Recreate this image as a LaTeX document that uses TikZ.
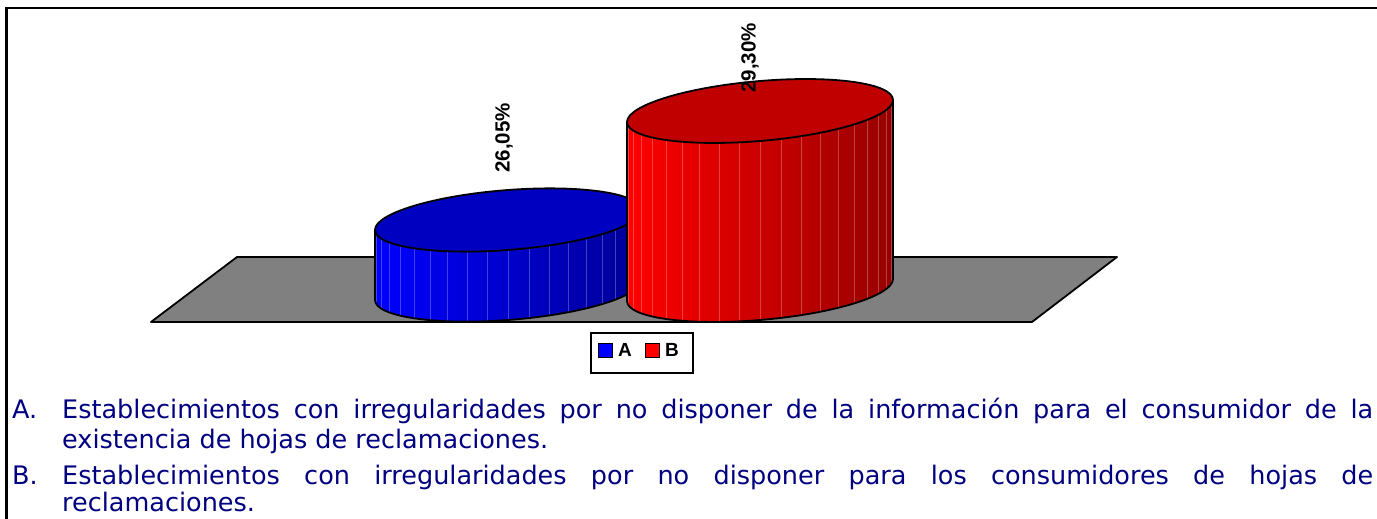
\documentclass[tikz,border=0pt]{standalone}
\usepackage{fontspec}
\newfontfamily\txtfont{DejaVu Sans}
\newfontfamily\lblfont{Liberation Sans}
\definecolor{navytxt}{RGB}{0,0,128}
\definecolor{blueL}{RGB}{0,0,255}
\definecolor{blueR}{RGB}{0,0,150}
\definecolor{blueTop}{RGB}{0,0,192}
\definecolor{redL}{RGB}{255,0,0}
\definecolor{redR}{RGB}{150,0,0}
\definecolor{redTop}{RGB}{192,0,0}
\definecolor{floorgray}{RGB}{128,128,128}
\tikzset{
  outline/.style={draw=black, line width=1.8pt, line join=round},
  facet/.style={draw=white, opacity=0.25, line width=0.5pt},
  pct/.style={font=\lblfont\bfseries\fontsize{20.5}{24}\selectfont, rotate=90, inner sep=0pt},
  legtxt/.style={font=\lblfont\bfseries\fontsize{19}{22}\selectfont, inner sep=0pt, anchor=base west},
  body/.style={font=\txtfont\fontsize{25.5}{30}\selectfont, text=navytxt, inner sep=0pt, anchor=base west},
}
\newcommand{\mycyl}[9]{% cx, cy, a, b, slant, h, leftcol, rightcol, topcol
  \begin{scope}[shift={(#1,#2)}, yslant=#5]
    \shade[left color=#7, right color=#8]
      (-#3,0) -- (-#3,-#6) arc[start angle=180, end angle=360, x radius=#3, y radius=#4]
      -- (#3,0) arc[start angle=0, end angle=-180, x radius=#3, y radius=#4] -- cycle;
    \foreach \t in {189,198,...,351}
      \draw[facet] ({#3*cos(\t)},{#4*sin(\t)}) -- ({#3*cos(\t)},{-#6+#4*sin(\t)});
    \draw[outline]
      (-#3,0) -- (-#3,-#6) arc[start angle=180, end angle=360, x radius=#3, y radius=#4]
      -- (#3,0);
    \draw[outline, fill=#9] (0,0) ellipse[x radius=#3, y radius=#4];
  \end{scope}}
\begin{document}
\begin{tikzpicture}[x=1pt,y=1pt]
\useasboundingbox (0,0) rectangle (1377,519);
% frame
\draw[line width=2.2pt] (1378,511) -- (6.5,511) -- (6.5,-1);
% floor
\draw[outline, fill=floorgray] (237,262) -- (151,197) -- (1032,197) -- (1117,262) -- cycle;
% cylinders
\mycyl{508}{299}{133}{30}{0.075}{70}{blueL}{blueR}{blueTop}
\mycyl{760}{408}{133}{30}{0.0827}{179}{redL}{redR}{redTop}
% value labels
\node[pct] (la) at (504,381) {26,05\%};
\node[pct] (lb) at (750,461) {29,30\%};
% legend
\node[draw=black, line width=1.5pt, minimum width=102pt, minimum height=40pt, inner sep=0pt] (leg) at (642,166) {};
\node[draw=black, line width=0.8pt, fill=blueL, minimum size=14pt, inner sep=0pt] (sqa) at (605,169) {};
\node[legtxt] (ta) at (618,162) {A};
\node[draw=black, line width=0.8pt, fill=redL, minimum size=14pt, inner sep=0pt] (sqb) at (652,169) {};
\node[legtxt] (tb) at (665,162) {B};
% description text
\node[body] (ma) at (12,100) {A.};
\node[body] (l1) at (62,100) {\makebox[1311pt][s]{Establecimientos con irregularidades por no disponer de la información para el consumidor de la}};
\node[body] (l2) at (62,70) {existencia de hojas de reclamaciones.};
\node[body] (mb) at (12,34) {B.};
\node[body] (l3) at (62,34) {\makebox[1311pt][s]{Establecimientos con irregularidades por no disponer para los consumidores de hojas de}};
\node[body] (l4) at (62,7) {reclamaciones.};
\end{tikzpicture}
\end{document}
